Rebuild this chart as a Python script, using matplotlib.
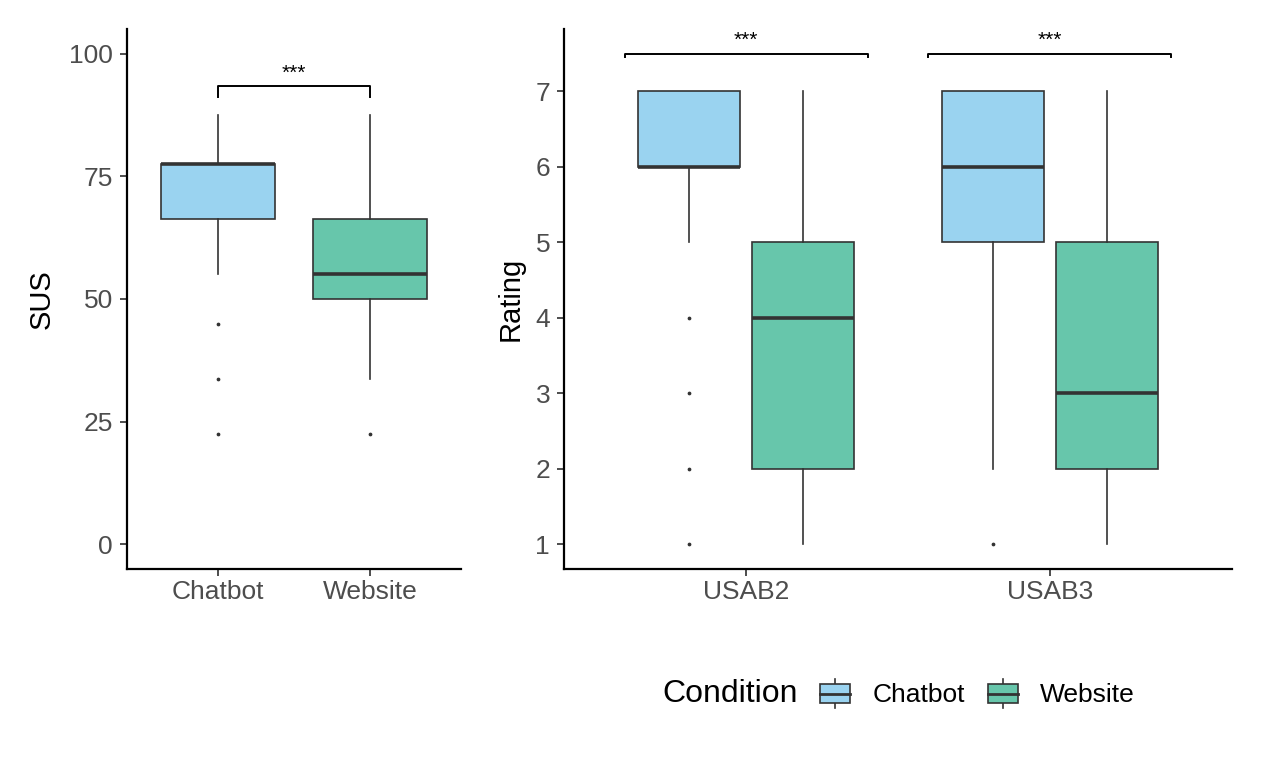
import numpy as np
import matplotlib.pyplot as plt
from matplotlib.patches import Rectangle
from matplotlib.lines import Line2D
from matplotlib.legend_handler import HandlerBase

plt.rcParams['font.family'] = ['Liberation Sans', 'DejaVu Sans']

conditions = ['Chatbot', 'Website']
colors = ['#9AD3F0', '#67C6AB']

# SUS box stats per condition
sus_whislo = [55.0, 33.75]
sus_q1 = [66.25, 50.0]
sus_med = [77.5, 55.0]
sus_q3 = [77.5, 66.25]
sus_whishi = [87.5, 87.5]
sus_fliers = [[45.0, 33.75, 22.5], [22.5]]

# Rating box stats per item, each [Chatbot, Website]
items = ['USAB2', 'USAB3']
rat_whislo = [[5, 1], [2, 1]]
rat_q1 = [[6, 2], [5, 2]]
rat_med = [[6, 4], [6, 3]]
rat_q3 = [[7, 5], [7, 5]]
rat_whishi = [[7, 7], [7, 7]]
rat_fliers = [[[4, 3, 2, 1], []], [[1], []]]

sig_label = '***'

edge = '#333333'
tick_col = '#4D4D4D'


def draw_box(ax, pos, width, st, color):
    ax.bxp([st], positions=[pos], widths=width, patch_artist=True,
           showcaps=False, manage_ticks=False,
           boxprops=dict(facecolor=color, edgecolor=edge, linewidth=1.2),
           whiskerprops=dict(color=edge, linewidth=1.2),
           medianprops=dict(color=edge, linewidth=2.6, solid_capstyle='butt'),
           flierprops=dict(marker='o', markersize=1.7, markerfacecolor=edge,
                           markeredgecolor=edge, linestyle='none'),
           zorder=2)


def style(ax):
    for s in ['top', 'right']:
        ax.spines[s].set_visible(False)
    for s in ['left', 'bottom']:
        ax.spines[s].set_linewidth(1.6)
        ax.spines[s].set_color('black')
    ax.tick_params(axis='both', colors=tick_col, labelsize=19, length=5,
                   width=1.4)
    ax.tick_params(axis='y', pad=5)
    ax.tick_params(axis='x', pad=3)


fig = plt.figure(figsize=(12.62, 7.58), dpi=100)
ax1 = fig.add_axes([127/1262, 1-569/758, 334/1262, 540/758])
ax2 = fig.add_axes([564/1262, 1-569/758, 668/1262, 540/758])

# left panel: SUS
for i in range(len(conditions)):
    st = dict(whislo=sus_whislo[i], q1=sus_q1[i], med=sus_med[i],
              q3=sus_q3[i], whishi=sus_whishi[i], fliers=sus_fliers[i])
    draw_box(ax1, i + 1, 0.75, st, colors[i])
ax1.plot([1, 1, 2, 2], [91.2, 93.3, 93.3, 91.2], color='black', lw=1.4)
ax1.text(1.5, 96.0, sig_label, ha='center', va='center', fontsize=15)
ax1.set_xlim(0.4, 2.6)
ax1.set_ylim(-5, 105)
ax1.set_xticks([1, 2])
ax1.set_xticklabels(conditions)
ax1.set_yticks([0, 25, 50, 75, 100])
ax1.set_ylabel('SUS', fontsize=21, labelpad=10)
style(ax1)

# right panel: Rating
off = 0.1875
for j in range(len(items)):
    for i in range(len(conditions)):
        st = dict(whislo=rat_whislo[j][i], q1=rat_q1[j][i], med=rat_med[j][i],
                  q3=rat_q3[j][i], whishi=rat_whishi[j][i],
                  fliers=rat_fliers[j][i])
        pos = j + 1 + (off if i else -off)
        draw_box(ax2, pos, 0.336, st, colors[i])
    ax2.plot([j + 0.6, j + 0.6, j + 1.4, j + 1.4], [7.46, 7.5, 7.5, 7.46],
             color='black', lw=1.4)
    ax2.text(j + 1, 7.68, sig_label, ha='center', va='center', fontsize=15)
ax2.set_xlim(0.4, 2.6)
ax2.set_ylim(0.675, 7.825)
ax2.set_xticks([1, 2])
ax2.set_xticklabels(items)
ax2.set_yticks(range(1, 8))
ax2.set_ylabel('Rating', fontsize=21, labelpad=8)
style(ax2)


class BoxKey(HandlerBase):
    def create_artists(self, legend, orig_handle, xdescent, ydescent,
                       width, height, fontsize, trans):
        cx = width / 2 - xdescent
        bh = height * 0.64
        y0 = (height - bh) / 2 - ydescent
        wl = Line2D([cx, cx], [-ydescent, height - ydescent], color=edge,
                    lw=1.2, transform=trans)
        r = Rectangle((-xdescent, y0), width, bh,
                      facecolor=orig_handle.get_facecolor(), edgecolor=edge,
                      lw=1.2, transform=trans)
        md = Line2D([-xdescent, width - xdescent],
                    [height / 2 - ydescent] * 2, color=edge, lw=2.0,
                    transform=trans)
        return [wl, r, md]


handles = [Rectangle((0, 0), 1, 1, facecolor=c) for c in colors]
leg = fig.legend(handles, conditions, handler_map={Rectangle: BoxKey()},
                 loc='center', bbox_to_anchor=(0.712, 0.084), ncol=2,
                 frameon=False, fontsize=19, title='Condition',
                 title_fontsize=23, handlelength=1.15, handleheight=1.3,
                 handletextpad=0.85, columnspacing=0.85)
# put the title to the left of the entries
box = leg.get_children()[0]
title_box = box.get_children()[0]
entries = box.get_children()[1]
box._children = [entries]
entries._children = [title_box] + entries.get_children()

fig.savefig('out.png', dpi=100)
